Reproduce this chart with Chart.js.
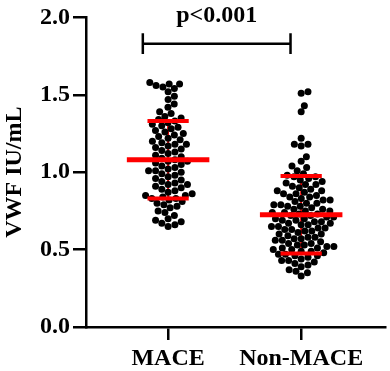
<!DOCTYPE html>
<html>
<head>
<meta charset="utf-8">
<script src="https://cdn.jsdelivr.net/npm/chart.js@4.4.1/dist/chart.umd.min.js"></script>
<style>
  html, body { margin: 0; padding: 0; background: #fff; }
  #wrap { width: 390px; height: 371px; }
</style>
</head>
<body>
<div id="wrap"><canvas id="swarm-chart"></canvas></div>
<script>
// data
const categories = ['MACE', 'Non-MACE'];
const maceValues = [
    1.58, 1.57, 1.57, 1.56, 1.55, 1.54, 1.52,
    1.49, 1.47, 1.44, 1.42,
    1.39, 1.38, 1.36, 1.35, 1.34, 1.33, 1.32, 1.31, 1.30,
    1.29, 1.28, 1.27, 1.26, 1.25, 1.24, 1.23, 1.22, 1.21, 1.20,
    1.19, 1.18, 1.18, 1.17, 1.16, 1.15, 1.14, 1.13, 1.12, 1.11, 1.10,
    1.09, 1.08, 1.07, 1.07, 1.06, 1.05, 1.04, 1.03, 1.02, 1.01, 1.01, 1.00,
    0.99, 0.98, 0.97, 0.96, 0.95, 0.94, 0.93, 0.92, 0.92, 0.91, 0.90,
    0.89, 0.88, 0.87, 0.86, 0.85, 0.85, 0.84, 0.83, 0.83, 0.82, 0.81, 0.80,
    0.79, 0.78, 0.77, 0.75, 0.74, 0.72, 0.70,
    0.69, 0.68, 0.67, 0.66, 0.65
];
const nonMaceValues = [
    1.52, 1.51, 1.43, 1.39, 1.22, 1.18, 1.17, 1.18, 1.10, 1.07,
    1.04, 1.03, 1.01,
    0.99, 0.98, 0.97, 0.97, 0.96, 0.95,
    0.94, 0.93, 0.92, 0.92, 0.91, 0.90,
    0.89, 0.88, 0.88, 0.87, 0.86, 0.86, 0.85,
    0.84, 0.84, 0.83, 0.82, 0.82, 0.81, 0.80, 0.80,
    0.79, 0.79, 0.78, 0.78, 0.77, 0.76, 0.76, 0.75, 0.75,
    0.74, 0.74, 0.73, 0.73, 0.72, 0.72, 0.71, 0.71, 0.70, 0.70,
    0.69, 0.69, 0.68, 0.68, 0.67, 0.67, 0.66, 0.66, 0.65, 0.65,
    0.64, 0.64, 0.63, 0.63, 0.62, 0.62, 0.61, 0.60, 0.60,
    0.59, 0.58, 0.58, 0.57, 0.57, 0.56, 0.56, 0.55,
    0.54, 0.54, 0.53, 0.53, 0.52, 0.52, 0.51, 0.51, 0.50, 0.50,
    0.49, 0.49, 0.48, 0.47, 0.47, 0.46, 0.46, 0.45,
    0.44, 0.43, 0.43, 0.42, 0.41, 0.40,
    0.39, 0.37, 0.36, 0.35, 0.33
];
const meanValues = [1.08, 0.725];
const sdValues = [0.25, 0.25];
const yTicks = [0, 0.5, 1.0, 1.5, 2.0];
const pLabel = 'p<0.001';
const bracketEnds = [0.81, 1.92];
const bracketY = 1.83;

const xMin = 0.383, xMax = 2.63;
const pxPerX = 299 / (xMax - xMin);
const pxPerY = 156;
const dotR = 3.5;

// simple beeswarm: push each dot sideways until it no longer overlaps
function swarm(values, center) {
    const sorted = values.slice().sort((a, b) => a - b);
    const placed = [];
    const d = dotR * 2;
    sorted.forEach(v => {
        const py = v * pxPerY;
        const near = placed.filter(p => Math.abs(p.py - py) < d);
        let cands = [0];
        near.forEach(p => {
            const dx = Math.sqrt(d * d - (p.py - py) ** 2);
            cands.push(p.px + dx, p.px - dx);
        });
        cands.sort((a, b) => Math.abs(a) - Math.abs(b));
        let px = cands.find(c => near.every(p => (p.px - c) ** 2 + (p.py - py) ** 2 >= d * d - 0.01));
        placed.push({ px: px, py: py, v: v });
    });
    return placed.map(p => ({ x: center + p.px / pxPerX, y: p.v }));
}

const font = { family: 'Liberation Serif', weight: 'bold', size: 24 };
const red = 'rgb(255, 0, 0)';

const datasets = [];
categories.forEach((c, i) => {
    const cx = i + 1, m = meanValues[i], s = sdValues[i];
    datasets.push({
        type: 'line', order: 0, borderColor: red, borderWidth: 5, pointRadius: 0,
        data: [{ x: cx - 0.31, y: m }, { x: cx + 0.31, y: m }]
    });
    datasets.push({
        type: 'line', order: 0, borderColor: red, borderWidth: 4, pointRadius: 0,
        data: [{ x: cx - 0.155, y: m + s }, { x: cx + 0.155, y: m + s }]
    });
    datasets.push({
        type: 'line', order: 0, borderColor: red, borderWidth: 4, pointRadius: 0,
        data: [{ x: cx - 0.155, y: m - s }, { x: cx + 0.155, y: m - s }]
    });
    datasets.push({
        type: 'line', order: 2, borderColor: red, borderWidth: 2, pointRadius: 0,
        data: [{ x: cx, y: m - s }, { x: cx, y: m + s }]
    });
    datasets.push({
        type: 'scatter', order: 1, label: c,
        data: swarm(i === 0 ? maceValues : nonMaceValues, cx),
        backgroundColor: '#000', borderColor: '#000', borderWidth: 0, pointRadius: dotR
    });
});
// significance bracket
datasets.push({
    type: 'line', order: 0, borderColor: '#000', borderWidth: 2.5, pointRadius: 0,
    data: [{ x: bracketEnds[0], y: bracketY }, { x: bracketEnds[1], y: bracketY }]
});
bracketEnds.forEach(bx => {
    datasets.push({
        type: 'line', order: 0, borderColor: '#000', borderWidth: 2.5, pointRadius: 0,
        data: [{ x: bx, y: bracketY - 0.067 }, { x: bx, y: bracketY + 0.067 }]
    });
});

const pText = {
    id: 'pText',
    afterDraw(chart) {
        const ctx = chart.ctx;
        const xs = chart.scales.x, ys = chart.scales.y;
        ctx.save();
        ctx.font = 'bold 24px "Liberation Serif"';
        ctx.fillStyle = '#000';
        ctx.textAlign = 'center';
        ctx.textBaseline = 'middle';
        ctx.fillText(pLabel, xs.getPixelForValue((bracketEnds[0] + bracketEnds[1]) / 2), ys.getPixelForValue(2.008));
        ctx.restore();
    }
};

new Chart(document.getElementById('swarm-chart'), {
    type: 'scatter',
    data: { datasets: datasets },
    options: {
        responsive: true,
        maintainAspectRatio: false,
        animation: false,
        layout: { padding: { top: 15, right: 5, left: 0, bottom: 0 } },
        plugins: { legend: { display: false }, tooltip: { enabled: false } },
        scales: {
            x: {
                type: 'linear', min: xMin, max: xMax,
                afterBuildTicks: axis => { axis.ticks = [1, 2].map(v => ({ value: v })); },
                afterFit: axis => { axis.height = 44; },
                ticks: { color: '#000', font: font, padding: 4, callback: v => categories[v - 1] },
                grid: { drawOnChartArea: false, drawTicks: true, tickLength: 13, color: '#000', lineWidth: 2.5 },
                border: { display: true, color: '#000', width: 2.5 }
            },
            y: {
                min: 0, max: 2,
                afterBuildTicks: axis => { axis.ticks = yTicks.map(v => ({ value: v })); },
                afterFit: axis => { axis.width = 86; },
                ticks: { color: '#000', font: font, padding: 3, callback: v => v.toFixed(1) },
                grid: { drawOnChartArea: false, drawTicks: true, tickLength: 13, color: '#000', lineWidth: 2.5 },
                border: { display: true, color: '#000', width: 2.5 },
                title: { display: true, text: 'VWF IU/mL', color: '#000', font: font, padding: { top: 0, bottom: 0 } }
            }
        }
    },
    plugins: [pText]
});
</script>
</body>
</html>
